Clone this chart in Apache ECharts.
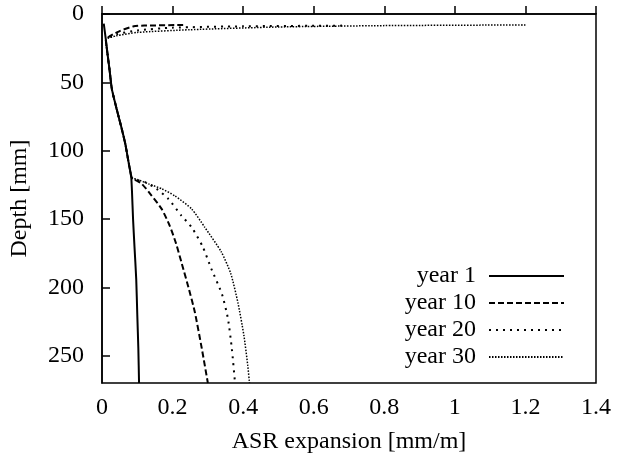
<!DOCTYPE html>
<html>
<head>
<meta charset="utf-8">
<script src="https://cdn.jsdelivr.net/npm/echarts@6/dist/echarts.min.js"></script>
<style>
  html, body { margin: 0; padding: 0; background: #fff; }
  #chart { width: 617px; height: 464px; }
</style>
</head>
<body>
<div id="chart"></div>
<script>
// ASR expansion profiles (x = expansion [mm/m], y = depth [mm])
var year1X = [0.005, 0.011, 0.016, 0.021, 0.028, 0.041, 0.054, 0.066, 0.075, 0.080, 0.083, 0.085, 0.088, 0.092, 0.097, 0.100, 0.103, 0.105];
var year1Depth = [7, 19, 30, 40, 55, 69, 82, 95, 108, 115, 120, 130, 150, 170, 194, 220, 245, 270];

var year10X = [0.23, 0.12, 0.09, 0.05, 0.011, 0.016, 0.021, 0.028, 0.041, 0.054, 0.066, 0.075, 0.080, 0.085, 0.098, 0.113, 0.141, 0.169, 0.192, 0.210, 0.225, 0.245, 0.263, 0.283, 0.300];
var year10Depth = [8, 8.5, 9, 12.5, 19, 30, 40, 55, 69, 82, 95, 108, 115, 120, 122, 124.3, 133, 142.6, 155, 168, 181.6, 200, 218, 245, 270];

var year20X = [0.68, 0.40, 0.20, 0.10, 0.04, 0.011, 0.016, 0.021, 0.028, 0.041, 0.054, 0.066, 0.075, 0.080, 0.085, 0.100, 0.122, 0.155, 0.188, 0.225, 0.254, 0.285, 0.310, 0.340, 0.357, 0.368, 0.377];
var year20Depth = [8.5, 9, 10, 12, 15, 19, 30, 40, 55, 69, 82, 95, 108, 115, 120, 121.5, 123, 128, 135.3, 147.5, 156, 170, 186.5, 205, 223, 245, 270];

var year30X = [1.20, 0.80, 0.50, 0.25, 0.10, 0.04, 0.011, 0.016, 0.021, 0.028, 0.041, 0.054, 0.066, 0.075, 0.080, 0.085, 0.100, 0.132, 0.170, 0.206, 0.254, 0.291, 0.338, 0.365, 0.385, 0.402, 0.413, 0.418];
var year30Depth = [8, 8.5, 9.5, 11.5, 13.5, 16, 19, 30, 40, 55, 69, 82, 95, 108, 115, 120, 121, 124.3, 128, 133, 142.6, 156, 174, 190, 211, 235, 257, 270];

var seriesNames = ['year 1', 'year 10', 'year 20', 'year 30'];
var xTicks = { min: 0, max: 1.4, interval: 0.2 };
var yTicks = { min: 0, max: 270, interval: 50 };

function pairs(xs, ys) {
    var out = [];
    for (var i = 0; i < xs.length; i++) {
        out.push([xs[i], ys[i]]);
    }
    return out;
}

var font = 'Liberation Serif';

function makeSeries(name, xs, ys, dash, width) {
    return {
        name: name,
        type: 'line',
        data: pairs(xs, ys),
        symbol: 'none',
        showSymbol: false,
        smooth: 0.2,
        lineStyle: { color: '#000', width: width, type: dash },
        itemStyle: { color: '#000' }
    };
}

var chart = echarts.init(document.getElementById('chart'));
chart.setOption({
    animation: false,
    backgroundColor: '#fff',
    grid: {
        left: 100, right: 21, top: 14, bottom: 81,
        show: true, borderColor: '#000', borderWidth: 1.5
    },
    legend: {
        data: seriesNames,
        orient: 'vertical',
        align: 'right',
        right: 52,
        top: 264,
        padding: 0,
        itemWidth: 75,
        itemHeight: 12,
        itemGap: 3,
        itemStyle: { color: 'rgba(0,0,0,0)', borderWidth: 0, opacity: 0 },
        textStyle: {
            fontFamily: font, fontSize: 24, color: '#000',
            lineHeight: 24, padding: [0, 8, 0, 0]
        }
    },
    xAxis: {
        type: 'value',
        min: xTicks.min, max: xTicks.max, interval: xTicks.interval,
        name: 'ASR expansion [mm/m]',
        nameLocation: 'middle',
        nameGap: 47,
        nameTextStyle: { fontFamily: font, fontSize: 24, color: '#000' },
        axisLine: { show: true, lineStyle: { color: '#000', width: 1.5 } },
        axisTick: { show: true, inside: true, length: 8, lineStyle: { color: '#000', width: 1.5 } },
        axisLabel: { fontFamily: font, fontSize: 24, color: '#000', margin: 13 },
        splitLine: { show: false }
    },
    yAxis: {
        type: 'value',
        inverse: true,
        min: yTicks.min, max: yTicks.max, interval: yTicks.interval,
        name: 'Depth [mm]',
        nameLocation: 'middle',
        nameGap: 70,
        nameTextStyle: { fontFamily: font, fontSize: 24, color: '#000' },
        axisLine: { show: true, lineStyle: { color: '#000', width: 1.5 } },
        axisTick: { show: true, inside: true, length: 8, lineStyle: { color: '#000', width: 1.5 } },
        axisLabel: { fontFamily: font, fontSize: 24, color: '#000', margin: 18, showMaxLabel: false },
        splitLine: { show: false }
    },
    series: [
        makeSeries(seriesNames[0], year1X, year1Depth, 'solid', 2),
        makeSeries(seriesNames[1], year10X, year10Depth, [6, 3], 2),
        makeSeries(seriesNames[2], year20X, year20Depth, [2, 5], 2),
        makeSeries(seriesNames[3], year30X, year30Depth, [1.5, 1.5], 1.5)
    ]
});
</script>
</body>
</html>
